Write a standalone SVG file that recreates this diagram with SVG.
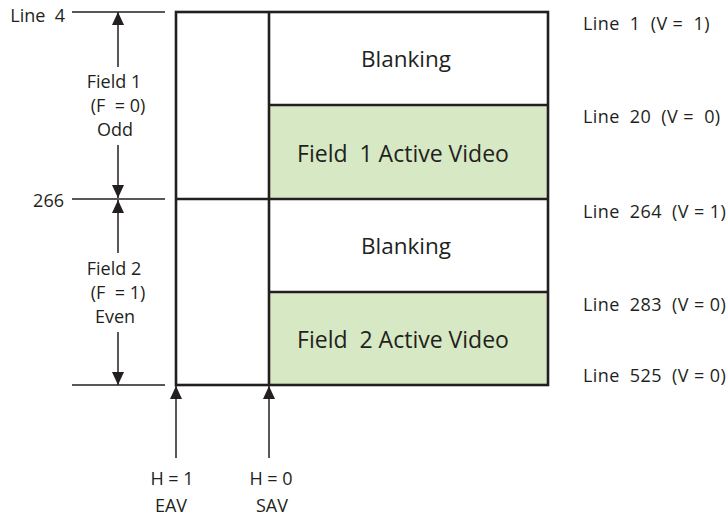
<svg xmlns="http://www.w3.org/2000/svg" width="728" height="516" viewBox="0 0 728 516">
<style>
text{font-family:"Open Sans","Noto Sans",sans-serif;fill:#231f20;white-space:pre}
.s{font-size:18px}
.r{font-size:18px;letter-spacing:0.4px}
.b{font-size:22.5px}
.a{font-size:23px}
.ln{stroke:#231f20;stroke-width:1.5;fill:none}
.bx{stroke:#231f20;stroke-width:2.6;fill:none}
</style>
<defs>
<marker id="ah" viewBox="0 0 13 12" refX="13" refY="6" markerWidth="13" markerHeight="12" markerUnits="userSpaceOnUse" orient="auto">
<path d="M0,0 L13,6 L0,12 z" fill="#231f20"/>
</marker>
</defs>
<g id="frame">
<rect x="269" y="105" width="279" height="94" fill="#d7e8c4"/>
<rect x="269" y="292" width="279" height="93" fill="#d7e8c4"/>
<rect class="bx" x="176" y="12" width="372" height="373"/>
<line class="bx" x1="269" y1="12" x2="269" y2="385"/>
<line class="bx" x1="269" y1="105" x2="548" y2="105"/>
<line class="bx" x1="176" y1="199" x2="548" y2="199"/>
<line class="bx" x1="269" y1="292" x2="548" y2="292"/>
</g>
<g id="blank1"><text class="b" x="406" y="67" text-anchor="middle">Blanking</text></g>
<g id="active1"><text class="a" x="403" y="162" text-anchor="middle">Field  1 Active Video</text></g>
<g id="blank2"><text class="b" x="406" y="254" text-anchor="middle">Blanking</text></g>
<g id="active2"><text class="a" x="403" y="348" text-anchor="middle">Field  2 Active Video</text></g>
<g id="connectors">
<line class="ln" x1="72" y1="12" x2="165" y2="12"/>
<line class="ln" x1="72" y1="199" x2="165" y2="199"/>
<line class="ln" x1="72" y1="385" x2="165" y2="385"/>
<line class="ln" x1="118" y1="67" x2="118" y2="12" marker-end="url(#ah)"/>
<line class="ln" x1="118" y1="145" x2="118" y2="198" marker-end="url(#ah)"/>
<line class="ln" x1="118" y1="253" x2="118" y2="200" marker-end="url(#ah)"/>
<line class="ln" x1="118" y1="332" x2="118" y2="385" marker-end="url(#ah)"/>
<line class="ln" x1="176" y1="458" x2="176" y2="386" marker-end="url(#ah)"/>
<line class="ln" x1="269" y1="458" x2="269" y2="386" marker-end="url(#ah)"/>
</g>
<g id="leftlabels">
<text class="s" x="65" y="22" text-anchor="end">Line  4</text>
<text class="s" x="64" y="207" text-anchor="end">266</text>
<text class="s" x="114" y="88" text-anchor="middle">Field 1</text>
<text class="s" x="118" y="112" text-anchor="middle">(F  = 0)</text>
<text class="s" x="115" y="136" text-anchor="middle">Odd</text>
<text class="s" x="114" y="275" text-anchor="middle">Field 2</text>
<text class="s" x="118" y="299" text-anchor="middle">(F  = 1)</text>
<text class="s" x="115" y="323" text-anchor="middle">Even</text>
</g>
<g id="hlabels">
<text class="s" x="172" y="485" text-anchor="middle">H = 1</text>
<text class="s" x="171" y="512" text-anchor="middle">EAV</text>
<text class="s" x="271" y="485" text-anchor="middle">H = 0</text>
<text class="s" x="272" y="512" text-anchor="middle">SAV</text>
</g>
<g id="rightlabels">
<text class="r" x="583" y="30">Line  1  (V =  1)</text>
<text class="r" x="583" y="123">Line  20  (V =  0)</text>
<text class="r" x="583" y="218">Line  264  (V = 1)</text>
<text class="r" x="583" y="311">Line  283  (V = 0)</text>
<text class="r" x="583" y="382">Line  525  (V = 0)</text>
</g>
</svg>
